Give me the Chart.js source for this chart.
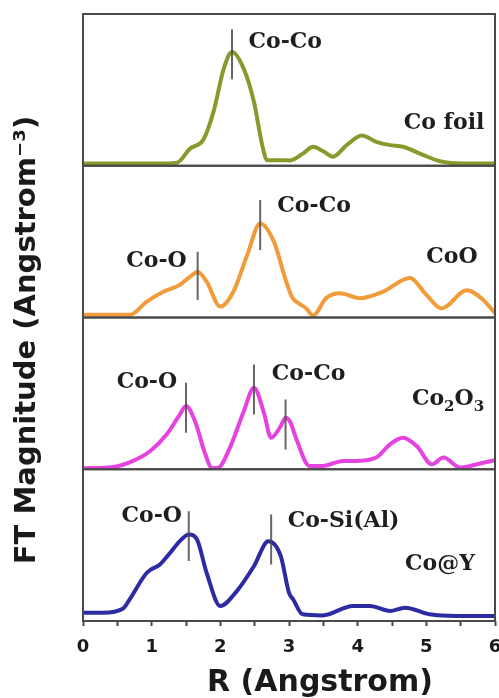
<!DOCTYPE html>
<html>
<head>
<meta charset="utf-8">
<script src="https://cdn.jsdelivr.net/npm/chart.js@4"></script>
<style>
  html, body { margin: 0; padding: 0; background: #fff; overflow: hidden; }
  #wrap { width: 499px; height: 698px; }
  canvas { display: block; }
</style>
</head>
<body>
<div id="wrap"><canvas id="ftChart"></canvas></div>
<script>
// R axis (Angstrom) tick labels
const rTicks = [0, 1, 2, 3, 4, 5, 6];

// Co foil
const foilR   = [0, 0.4, 0.8, 1.2, 1.37, 1.56, 1.75, 1.90, 2.05, 2.17, 2.34, 2.49, 2.61, 2.68, 2.88, 3.01, 3.20, 3.35, 3.50, 3.64, 3.84, 4.06, 4.27, 4.47, 4.66, 4.96, 5.20, 5.54, 6.0];
const foilMag = [1.5, 1.5, 1.5, 1.5, 2, 11.4, 16.9, 35.5, 64, 75, 64, 42, 13.6, 3.7, 3.7, 3.5, 8, 12.5, 9.5, 6, 13.6, 20, 15.8, 13.6, 12.5, 7, 3, 1.5, 1.5];

// CoO
const cooR   = [0, 0.3, 0.68, 0.93, 1.17, 1.41, 1.56, 1.67, 1.80, 2.0, 2.19, 2.39, 2.58, 2.78, 2.95, 3.05, 3.17, 3.25, 3.35, 3.54, 3.74, 4.03, 4.37, 4.76, 5.0, 5.22, 5.59, 5.83, 6.0];
const cooMag = [1.8, 1.8, 1.8, 10.5, 17, 21.5, 27, 30, 23.7, 7.2, 17, 41, 62, 50, 25, 13, 8.5, 6, 1.3, 12.7, 16, 12.7, 17, 26, 15, 6, 18, 11.6, 2.8];

// Co2O3
const co2o3R   = [0, 0.44, 0.73, 0.98, 1.22, 1.41, 1.50, 1.63, 1.78, 1.88, 1.97, 2.14, 2.34, 2.49, 2.63, 2.74, 2.88, 2.95, 3.02, 3.10, 3.30, 3.49, 3.79, 3.98, 4.27, 4.47, 4.66, 4.86, 5.08, 5.25, 5.49, 5.74, 6.0];
const co2o3Mag = [0.7, 1.5, 5.5, 12, 23, 36, 41.6, 31.8, 10, 0.7, 1, 14.3, 38, 53.7, 38, 20.8, 28.5, 34, 31, 20.8, 2.2, 2.2, 5.5, 5.5, 7.7, 16.4, 20.8, 15.3, 3.3, 7.7, 1.1, 3.3, 6];

// Co@Y
const coyR   = [0, 0.29, 0.58, 0.68, 0.93, 1.12, 1.27, 1.41, 1.54, 1.66, 1.80, 2.0, 2.24, 2.49, 2.70, 2.88, 3.0, 3.06, 3.20, 3.49, 3.93, 4.18, 4.47, 4.69, 5.05, 5.44, 6.0];
const coyMag = [5.5, 5.5, 8.1, 14.3, 31.8, 37.3, 45, 52.6, 57, 53.7, 31.8, 9.9, 19.7, 36.2, 52.6, 42.8, 18.6, 14.3, 4.4, 3.7, 9.9, 9.9, 6.6, 8.8, 4.4, 3.3, 3.3];

// peak marker bars: R position, lower and upper magnitude
const foilMarkR  = [2.17],             foilMarkLo  = [57],             foilMarkHi  = [90];
const cooMarkR   = [1.67, 2.58],       cooMarkLo   = [11.6, 44.5],     cooMarkHi   = [43.4, 77.4];
const co2o3MarkR = [1.50, 2.49, 2.95], co2o3MarkLo = [24, 36, 13],     co2o3MarkHi = [57, 69, 46];
const coyMarkR   = [1.54, 2.74],       coyMarkLo   = [39.5, 37.3],     coyMarkHi   = [72.4, 70.2];

const panels = [
    { axis: 'y1', r: foilR,  mag: foilMag,  color: '#879b2d', mR: foilMarkR,  mLo: foilMarkLo,  mHi: foilMarkHi },
    { axis: 'y2', r: cooR,   mag: cooMag,   color: '#f19b3a', mR: cooMarkR,   mLo: cooMarkLo,   mHi: cooMarkHi },
    { axis: 'y3', r: co2o3R, mag: co2o3Mag, color: '#e443df', mR: co2o3MarkR, mLo: co2o3MarkLo, mHi: co2o3MarkHi },
    { axis: 'y4', r: coyR,   mag: coyMag,   color: '#2d2ba3', mR: coyMarkR,   mLo: coyMarkLo,   mHi: coyMarkHi }
];

// annotation texts (x in R, y in panel magnitude)
const notes = [
    { axis: 'y1', x: 2.41, y: 81.6, text: 'Co-Co' },
    { axis: 'y1', x: 4.67, y: 28.3, text: 'Co foil' },
    { axis: 'y2', x: 0.63, y: 36.8, text: 'Co-O' },
    { axis: 'y2', x: 2.83, y: 73,   text: 'Co-Co' },
    { axis: 'y2', x: 5.0,  y: 40,   text: 'CoO' },
    { axis: 'y3', x: 0.49, y: 57.2, text: 'Co-O' },
    { axis: 'y3', x: 2.75, y: 62.5, text: 'Co-Co' },
    { axis: 'y3', x: 4.79, y: 46,   text: 'Co', sub: ['2', 'O', '3'] },
    { axis: 'y4', x: 0.56, y: 69,   text: 'Co-O' },
    { axis: 'y4', x: 2.98, y: 65.8, text: 'Co-Si(Al)' },
    { axis: 'y4', x: 4.69, y: 37.5, text: 'Co@Y' }
];

const datasets = [];
panels.forEach(p => {
    p.mR.forEach((r, i) => {
        datasets.push({
            data: [{ x: r, y: p.mLo[i] }, { x: r, y: p.mHi[i] }],
            yAxisID: p.axis,
            borderColor: 'rgba(75, 75, 75, 0.85)',
            borderWidth: 2,
            pointRadius: 0,
            order: 0
        });
    });
    datasets.push({
        data: p.r.map((r, i) => ({ x: r, y: p.mag[i] })),
        yAxisID: p.axis,
        borderColor: p.color,
        borderWidth: 4,
        pointRadius: 0,
        cubicInterpolationMode: 'monotone',
        order: 1
    });
});

function panelAxis() {
    return {
        type: 'linear',
        position: 'left',
        stack: 'panels',
        stackWeight: 1,
        min: 0,
        max: 100,
        display: true,
        ticks: { display: false },
        grid: { display: false },
        border: { display: false },
        afterFit: s => { s.width = 0; }
    };
}

const panelDecor = {
    id: 'panelDecor',
    afterDatasetsDraw(chart) {
        const ctx = chart.ctx;
        const area = chart.chartArea;
        ctx.save();
        ctx.strokeStyle = '#4a4a4a';
        ctx.lineWidth = 2;
        ['y1', 'y2', 'y3', 'y4'].forEach(id => {
            const s = chart.scales[id];
            ctx.strokeRect(area.left, s.top, area.right - area.left, s.bottom - s.top);
        });

        // annotation labels
        ctx.fillStyle = '#1e1e1e';
        ctx.textBaseline = 'middle';
        ctx.textAlign = 'left';
        notes.forEach(n => {
            const px = chart.scales.x.getPixelForValue(n.x);
            const py = chart.scales[n.axis].getPixelForValue(n.y);
            ctx.font = 'bold 22px "DejaVu Serif"';
            ctx.fillText(n.text, px, py);
            if (n.sub) {
                let cx = px + ctx.measureText(n.text).width;
                n.sub.forEach((t, i) => {
                    const small = i % 2 === 0;
                    ctx.font = small ? 'bold 15px "DejaVu Serif"' : 'bold 22px "DejaVu Serif"';
                    ctx.fillText(t, cx, small ? py + 8 : py);
                    cx += ctx.measureText(t).width;
                });
            }
        });

        // axis titles
        ctx.fillStyle = '#1a1a1a';
        ctx.textAlign = 'center';
        ctx.font = 'bold 30px "DejaVu Sans"';
        ctx.fillText('R (Angstrom)', 320, 683);
        ctx.translate(27, 340);
        ctx.rotate(-Math.PI / 2);
        ctx.font = 'bold 29px "DejaVu Sans"';
        ctx.fillText('FT Magnitude (Angstrom\u207B\u00B3)', 0, 0);
        ctx.restore();
    }
};

new Chart(document.getElementById('ftChart').getContext('2d'), {
    type: 'line',
    data: { datasets: datasets },
    options: {
        responsive: true,
        maintainAspectRatio: false,
        animation: false,
        layout: { padding: { top: 14, left: 83, right: 4, bottom: 0 } },
        plugins: {
            legend: { display: false },
            tooltip: { enabled: false }
        },
        scales: {
            x: {
                type: 'linear',
                position: 'bottom',
                min: rTicks[0],
                max: rTicks[rTicks.length - 1],
                ticks: {
                    stepSize: 0.5,
                    autoSkip: false,
                    maxRotation: 0,
                    padding: 11,
                    color: '#1a1a1a',
                    font: { family: '"DejaVu Sans"', size: 18, weight: 'bold' },
                    callback: v => rTicks.includes(v) ? String(v) : ''
                },
                grid: {
                    drawOnChartArea: false,
                    drawTicks: true,
                    tickLength: 5,
                    tickWidth: 2,
                    color: '#4a4a4a'
                },
                border: { display: false },
                afterFit: s => {
                    s.height = 77;
                    s.paddingLeft = 0;
                    s.paddingRight = 0;
                }
            },
            // the layout stacks the first listed axis at the bottom
            y4: panelAxis(),
            y3: panelAxis(),
            y2: panelAxis(),
            y1: panelAxis()
        }
    },
    plugins: [panelDecor]
});
</script>
</body>
</html>
